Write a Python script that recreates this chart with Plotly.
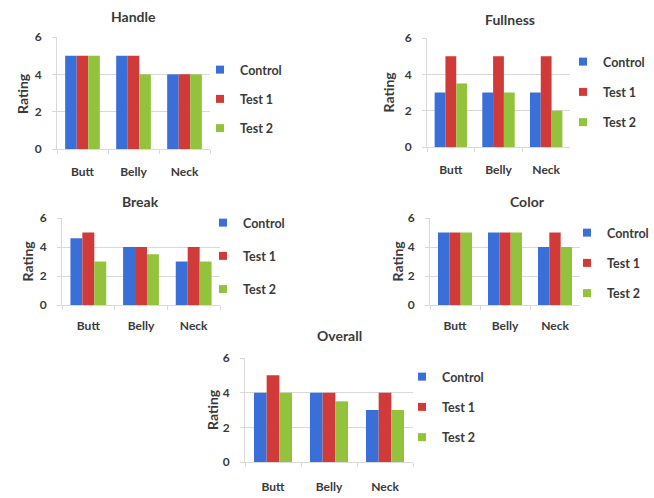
import plotly.graph_objects as go

# Sensory ratings for three sample treatments across three fillet cuts
categories = ["Butt", "Belly", "Neck"]
series_names = ["Control", "Test 1", "Test 2"]
series_colors = ["#3b6fd8", "#d03a38", "#93c23d"]

handle_control = [5, 5, 4]
handle_test1 = [5, 5, 4]
handle_test2 = [5, 4, 4]

fullness_control = [3, 3, 3]
fullness_test1 = [5, 5, 5]
fullness_test2 = [3.5, 3, 2]

break_control = [4.6, 4, 3]
break_test1 = [5, 4, 4]
break_test2 = [3, 3.5, 3]

color_control = [5, 5, 4]
color_test1 = [5, 5, 5]
color_test2 = [5, 5, 4]

overall_control = [4, 4, 3]
overall_test1 = [5, 4, 4]
overall_test2 = [4, 3.5, 3]

y_ticks = [0, 2, 4, 6]

W, H = 654, 498


def px_x(v):
    return v / W


def px_y(v):
    return 1 - v / H


# Panel placement in pixels: plot left/right, plot top/bottom,
# title centre, axis-title x, legend left/top and entry spacing
panels = [
    dict(title="Handle", series=[handle_control, handle_test1, handle_test2],
         x=(57, 210), y=(37, 149), title_xy=(133, 17), rating_x=22,
         legend_xy=(200, 55), legend_gap=10, label_gap=12),
    dict(title="Fullness", series=[fullness_control, fullness_test1, fullness_test2],
         x=(427, 570), y=(38, 147), title_xy=(510, 19), rating_x=388,
         legend_xy=(563, 47), legend_gap=11, label_gap=12),
    dict(title="Break", series=[break_control, break_test1, break_test2],
         x=(62, 220), y=(218, 305), title_xy=(140, 202), rating_x=27,
         legend_xy=(203, 208), legend_gap=14, label_gap=10),
    dict(title="Color", series=[color_control, color_test1, color_test2],
         x=(430, 580), y=(218, 305), title_xy=(527, 202), rating_x=397,
         legend_xy=(567, 218), legend_gap=11, label_gap=10),
    dict(title="Overall", series=[overall_control, overall_test1, overall_test2],
         x=(245, 413), y=(358, 462), title_xy=(340, 335), rating_x=212,
         legend_xy=(402, 362), legend_gap=11, label_gap=14),
]

font_family = "Lato, 'Open Sans', sans-serif"
text_color = "#3a3a3a"
grid_color = "#d9d9d9"

fig = go.Figure()
annotations = []
layout_axes = {}

for i, p in enumerate(panels, start=1):
    sfx = "" if i == 1 else str(i)
    legend_id = "legend" if i == 1 else f"legend{i}"
    for j, (name, color, vals) in enumerate(zip(series_names, series_colors, p["series"])):
        fig.add_trace(go.Bar(
            x=categories, y=vals, name=name,
            marker=dict(color=color, line=dict(width=0)),
            xaxis=f"x{sfx}", yaxis=f"y{sfx}",
            legendgroup=f"p{i}s{j}", showlegend=False,
        ))
        # small square key for the legend entry
        fig.add_trace(go.Scatter(
            x=[None], y=[None], mode="markers", name=name,
            marker=dict(symbol="square", size=8, color=color),
            xaxis=f"x{sfx}", yaxis=f"y{sfx}",
            legend=legend_id, legendgroup=f"p{i}s{j}", showlegend=True,
            hoverinfo="skip",
        ))

    layout_axes[f"xaxis{sfx}"] = dict(
        domain=[px_x(p["x"][0]), px_x(p["x"][1])],
        anchor=f"y{sfx}",
        showline=True, linecolor=grid_color, linewidth=1,
        ticks="outside", tickson="boundaries", ticklen=4, tickcolor=grid_color,
        ticklabelstandoff=p["label_gap"],
        tickfont=dict(family=font_family, size=12, color=text_color, weight="bold"),
        showgrid=False, zeroline=False, fixedrange=True,
    )
    layout_axes[f"yaxis{sfx}"] = dict(
        domain=[px_y(p["y"][1]), px_y(p["y"][0])],
        anchor=f"x{sfx}",
        range=[0, 6], tickvals=y_ticks,
        showline=True, linecolor=grid_color, linewidth=1,
        showgrid=True, gridcolor=grid_color, gridwidth=1,
        ticks="outside", ticklen=4, tickcolor=grid_color,
        ticklabelstandoff=8,
        tickfont=dict(family=font_family, size=12, color=text_color, weight="bold"),
        zeroline=False, fixedrange=True,
    )
    layout_axes[legend_id] = dict(
        x=px_x(p["legend_xy"][0]), y=px_y(p["legend_xy"][1]),
        xanchor="left", yanchor="top",
        orientation="v", tracegroupgap=p["legend_gap"],
        bgcolor="rgba(0,0,0,0)", borderwidth=0,
        font=dict(family=font_family, size=12.5, color=text_color, weight="bold"),
        itemclick=False, itemdoubleclick=False,
    )

    annotations.append(dict(
        text=p["title"], x=px_x(p["title_xy"][0]), y=px_y(p["title_xy"][1]),
        xref="paper", yref="paper", xanchor="center", yanchor="middle",
        showarrow=False,
        font=dict(family=font_family, size=14, color=text_color, weight="bold"),
    ))
    annotations.append(dict(
        text="Rating", x=px_x(p["rating_x"]), y=px_y((p["y"][0] + p["y"][1]) / 2),
        xref="paper", yref="paper", xanchor="center", yanchor="middle",
        textangle=-90, showarrow=False,
        font=dict(family=font_family, size=14, color=text_color, weight="bold"),
    ))

fig.update_layout(
    width=W, height=H,
    margin=dict(l=0, r=0, t=0, b=0, autoexpand=False),
    paper_bgcolor="white", plot_bgcolor="white",
    barmode="group", bargap=0.32, bargroupgap=0,
    annotations=annotations,
    **layout_axes,
)

fig.write_html("out.html", config={"displayModeBar": False})
